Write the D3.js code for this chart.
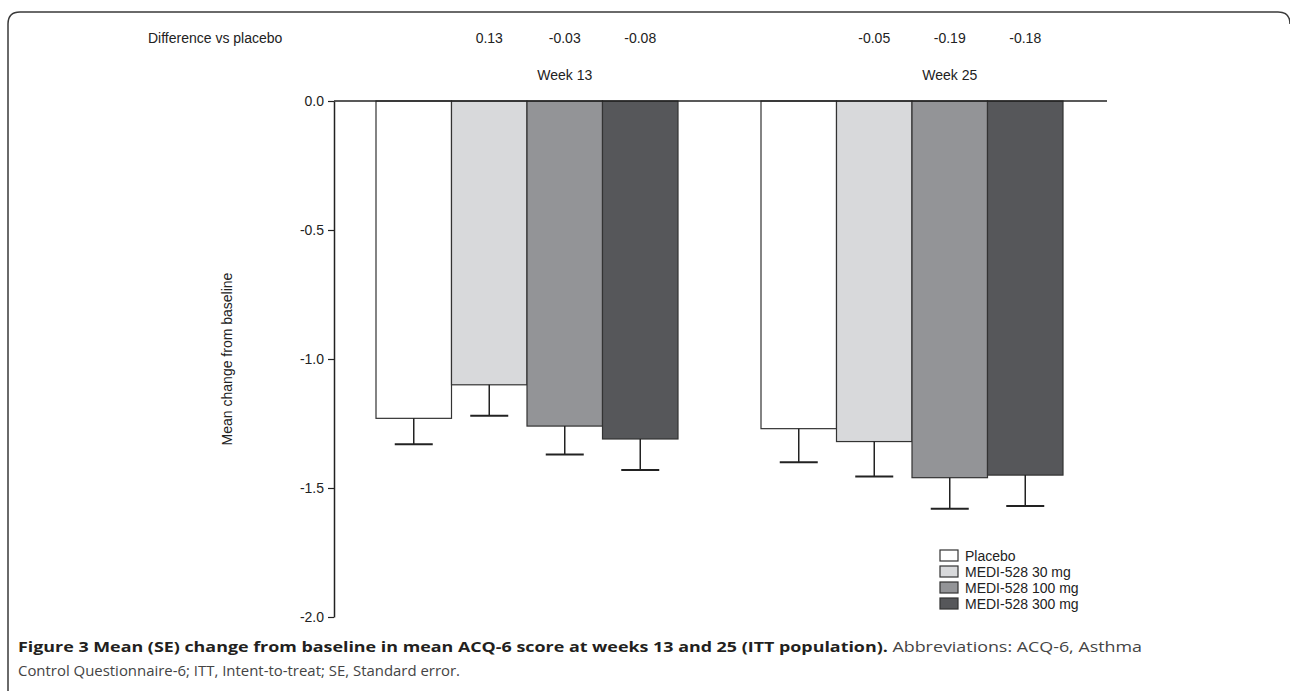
<!DOCTYPE html>
<html><head><meta charset="utf-8">
<script src="https://cdn.jsdelivr.net/npm/d3@7"></script>
<style>html,body{margin:0;padding:0;background:#fff;}svg{display:block;}</style>
</head><body>
<svg id="chart" width="1290" height="691"></svg>
<script>
const weeks = ["Week 13", "Week 25"];
const series = ["Placebo", "MEDI-528 30 mg", "MEDI-528 100 mg", "MEDI-528 300 mg"];
const colors = ["#ffffff", "#d8d9db", "#939497", "#56575a"];
const week13Means = [-1.23, -1.10, -1.26, -1.31];
const week13SE = [0.10, 0.12, 0.11, 0.12];
const week25Means = [-1.27, -1.32, -1.46, -1.45];
const week25SE = [0.13, 0.135, 0.12, 0.12];
const week13Diff = ["", "0.13", "-0.03", "-0.08"];
const week25Diff = ["", "-0.05", "-0.19", "-0.18"];
const yTicks = [0, -0.5, -1.0, -1.5, -2.0];

const means = [week13Means, week25Means];
const ses = [week13SE, week25SE];
const diffs = [week13Diff, week25Diff];

const svg = d3.select("#chart");
const F = "'Liberation Sans', Arial, sans-serif";

// frame
svg.append("path")
  .attr("d", "M8,691 L8,24 Q8,12 20,12 L1278,12 Q1290,12 1290,24")
  .attr("fill", "none").attr("stroke", "#3a3a3a").attr("stroke-width", 1.5);

const plotL = 334, plotR = 1107, plotT = 101, plotB = 617;
const y = d3.scaleLinear().domain([-2, 0]).range([plotB, plotT]);
const x0 = d3.scaleBand().domain(weeks).range([376, 1063]).paddingInner(83/385).paddingOuter(0);
const x1 = d3.scaleBand().domain(series).range([0, x0.bandwidth()]).padding(0);

// y axis
const yAxis = d3.axisLeft(y).tickValues(yTicks).tickFormat(d => d.toFixed(1)).tickSize(6).tickSizeOuter(0);
const ga = svg.append("g").attr("transform", `translate(${plotL},0)`).call(yAxis);
ga.select(".domain").attr("stroke", "#222").attr("stroke-width", 1.5);
ga.selectAll(".tick line").attr("stroke", "#222").attr("stroke-width", 1.2);
ga.selectAll(".tick text").attr("font-family", F).attr("font-size", 14).attr("fill", "#222").attr("x", -10);

// bars
weeks.forEach((w, wi) => {
  const g = svg.append("g").attr("transform", `translate(${x0(w)},0)`);
  series.forEach((s, si) => {
    const v = means[wi][si];
    g.append("rect")
      .attr("x", x1(s)).attr("y", y(0))
      .attr("width", x1.bandwidth()).attr("height", y(v) - y(0))
      .attr("fill", colors[si]).attr("stroke", "#333").attr("stroke-width", 1.2);
  });
  series.forEach((s, si) => {
    const v = means[wi][si], e = ses[wi][si];
    const cx = x1(s) + x1.bandwidth() / 2;
    g.append("line").attr("x1", cx).attr("x2", cx).attr("y1", y(v)).attr("y2", y(v - e))
      .attr("stroke", "#222").attr("stroke-width", 1.5);
    g.append("line").attr("x1", cx - 19).attr("x2", cx + 19).attr("y1", y(v - e)).attr("y2", y(v - e))
      .attr("stroke", "#222").attr("stroke-width", 2);
    if (diffs[wi][si]) {
      g.append("text").attr("x", cx).attr("y", 43).attr("text-anchor", "middle")
        .attr("font-family", F).attr("font-size", 14).attr("fill", "#222").text(diffs[wi][si]);
    }
  });
  g.append("text").attr("x", x1(series[2]) + x1.bandwidth() / 2).attr("y", 80).attr("text-anchor", "middle")
    .attr("font-family", F).attr("font-size", 14).attr("fill", "#222").text(w);
});

// zero line
svg.append("line").attr("x1", plotL).attr("x2", plotR).attr("y1", y(0)).attr("y2", y(0))
  .attr("stroke", "#222").attr("stroke-width", 1.5);

svg.append("text").attr("x", 148).attr("y", 43).attr("font-family", F).attr("font-size", 14)
  .attr("fill", "#222").text("Difference vs placebo");

// y title
svg.append("text").attr("transform", `translate(232,${(plotT + plotB) / 2}) rotate(-90)`)
  .attr("text-anchor", "middle").attr("font-family", F).attr("font-size", 14).attr("fill", "#222")
  .text("Mean change from baseline");

// legend
const lg = svg.append("g").attr("transform", "translate(940,550)");
series.forEach((s, i) => {
  lg.append("rect").attr("x", 0).attr("y", i * 16).attr("width", 18).attr("height", 11)
    .attr("fill", colors[i]).attr("stroke", "#333").attr("stroke-width", 1.2);
  lg.append("text").attr("x", 25).attr("y", i * 16 + 11).attr("font-family", F).attr("font-size", 14)
    .attr("fill", "#222").text(s);
});

// caption
const CF = "'Open Sans', 'Noto Sans', sans-serif";
const c1 = svg.append("text").attr("x", 18).attr("y", 652).attr("font-family", CF).attr("font-size", 15)
  .attr("fill", "#231f20").attr("textLength", 1124).attr("lengthAdjust", "spacingAndGlyphs");
c1.append("tspan").attr("font-weight", "bold")
  .text("Figure 3 Mean (SE) change from baseline in mean ACQ-6 score at weeks 13 and 25 (ITT population).");
c1.append("tspan").attr("fill", "#444").text(" Abbreviations: ACQ-6, Asthma");
svg.append("text").attr("x", 18).attr("y", 676).attr("font-family", CF).attr("font-size", 15)
  .attr("fill", "#444").attr("textLength", 442).attr("lengthAdjust", "spacingAndGlyphs")
  .text("Control Questionnaire-6; ITT, Intent-to-treat; SE, Standard error.");
</script>
</body></html>
